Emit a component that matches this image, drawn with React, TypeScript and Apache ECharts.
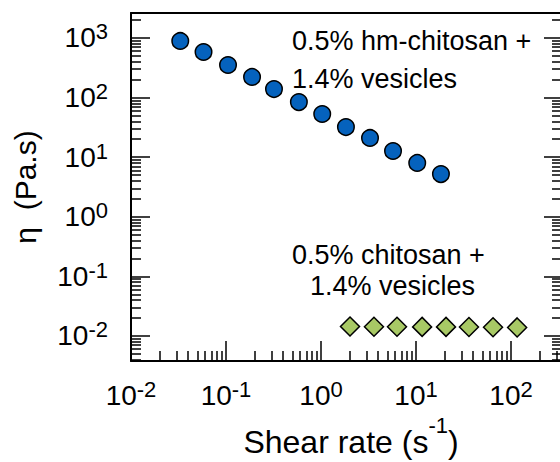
import React, { useEffect, useRef } from 'react';
import * as echarts from 'echarts';

// 0.5% hm-chitosan + 1.4% vesicles
const hmShearRate = [0.033, 0.058, 0.105, 0.188, 0.32, 0.585, 1.03, 1.83, 3.28, 5.73, 10.3, 18.3];
const hmViscosity = [891, 582, 352, 222, 139, 84, 53, 32, 21, 12.7, 8.0, 5.2];
// 0.5% chitosan + 1.4% vesicles
const chShearRate = [2.02, 3.61, 6.31, 11.6, 20.7, 36.1, 64.7, 116];
const chViscosity = [0.0144, 0.0143, 0.0143, 0.0142, 0.0142, 0.0141, 0.014, 0.0139];

const xMajorTicks = [0.01, 0.1, 1, 10, 100];
const yMajorTicks = [0.01, 0.1, 1, 10, 100, 1000];
const minorMantissas = [2, 3, 4, 5, 6, 7, 8, 9];
const decades = [-3, -2, -1, 0, 1, 2, 3];

const X_MIN = 0.01;
const X_MAX = 336;
const Y_MIN = 0.0038;
const Y_MAX = 2625;

const minorTicks = (lo: number, hi: number) => {
  const out: number[] = [];
  decades.forEach((d) =>
    minorMantissas.forEach((m) => {
      const v = Number((m * Math.pow(10, d)).toPrecision(3));
      if (v > lo && v < hi) out.push(v);
    })
  );
  return out;
};

const FONT = '"Liberation Sans", Arial, Helvetica, sans-serif';
const INK = '#000';

const tickLabelRich = {
  b: { fontSize: 28, lineHeight: 34, fontFamily: FONT, color: INK },
  s: { fontSize: 22, lineHeight: 22, verticalAlign: 'top', fontFamily: FONT, color: INK },
};
const powLabel = (v: number) => `{b|10}{s|${Math.round(Math.log10(v))}}`;

const lineStyle = { color: '#000', width: 2 };
const tickStyle = { color: '#000', width: 1.5 };

export default function App() {
  const ref = useRef<HTMLDivElement>(null);
  useEffect(() => {
    if (!ref.current) return;
    const chart = echarts.init(ref.current, null, { renderer: 'svg' });
    const xMinor = minorTicks(X_MIN, X_MAX);
    const yMinor = minorTicks(Y_MIN, Y_MAX);
    const baseX = { type: 'log', logBase: 10, min: X_MIN, max: X_MAX, splitLine: { show: false }, gridIndex: 0 };
    const baseY = { type: 'log', logBase: 10, min: Y_MIN, max: Y_MAX, splitLine: { show: false }, gridIndex: 0 };
    const note = (text: string, x: number, y: number) => ({
      type: 'text',
      x,
      y,
      style: { text, fontSize: 27, fontFamily: FONT, fill: INK, align: 'left', verticalAlign: 'middle' },
    });
    chart.setOption({
      animation: false,
      backgroundColor: '#fff',
      grid: { left: 131, top: 13, width: 430, height: 348, containLabel: false, outerBoundsMode: 'none' },
      xAxis: [
        {
          ...baseX,
          position: 'bottom',
          axisLine: { show: true, lineStyle },
          axisTick: { show: true, inside: true, length: 20, lineStyle: tickStyle, customValues: xMajorTicks },
          axisLabel: { show: true, margin: 17, customValues: xMajorTicks, formatter: powLabel, rich: tickLabelRich },
          name: '{a|Shear rate (s}{s|-1}{a|)}',
          nameLocation: 'middle',
          nameGap: 53,
          nameTextStyle: {
            padding: [0, 0, 0, 10],
            rich: {
              a: { fontSize: 32, lineHeight: 56, fontFamily: FONT, color: INK },
              s: { fontSize: 22, lineHeight: 22, verticalAlign: 'top', fontFamily: FONT, color: INK },
            },
          },
        },
        {
          ...baseX,
          position: 'bottom',
          axisLine: { show: false },
          axisTick: { show: true, inside: true, length: 10, lineStyle: tickStyle, customValues: xMinor },
          axisLabel: { show: false },
        },
        {
          ...baseX,
          position: 'top',
          axisLine: { show: true, lineStyle },
          axisTick: { show: false },
          axisLabel: { show: false },
        },
      ],
      yAxis: [
        {
          ...baseY,
          position: 'left',
          axisLine: { show: true, lineStyle },
          axisTick: { show: true, inside: true, length: 19, lineStyle: tickStyle, customValues: yMajorTicks },
          axisLabel: { show: true, margin: 23, customValues: yMajorTicks, formatter: powLabel, rich: tickLabelRich },
          name: 'η  (Pa.s)',
          nameLocation: 'middle',
          nameGap: 91,
          nameTextStyle: { fontSize: 30, fontFamily: FONT, color: INK },
        },
        {
          ...baseY,
          position: 'left',
          axisLine: { show: false },
          axisTick: { show: true, inside: true, length: 10, lineStyle: tickStyle, customValues: yMinor },
          axisLabel: { show: false },
        },
        {
          ...baseY,
          position: 'right',
          axisLine: { show: true, lineStyle },
          axisTick: { show: true, inside: true, length: 17, lineStyle: tickStyle, customValues: yMajorTicks },
          axisLabel: { show: false },
        },
        {
          ...baseY,
          position: 'right',
          axisLine: { show: false },
          axisTick: { show: true, inside: true, length: 9, lineStyle: tickStyle, customValues: yMinor },
          axisLabel: { show: false },
        },
      ],
      series: [
        {
          name: '0.5% hm-chitosan + 1.4% vesicles',
          type: 'scatter',
          xAxisIndex: 0,
          yAxisIndex: 0,
          symbol: 'circle',
          symbolSize: 16.5,
          itemStyle: { color: '#0562bd', borderColor: '#000', borderWidth: 1.5, opacity: 1 },
          data: hmShearRate.map((x, i) => [x, hmViscosity[i]]),
        },
        {
          name: '0.5% chitosan + 1.4% vesicles',
          type: 'scatter',
          xAxisIndex: 0,
          yAxisIndex: 0,
          symbol: 'diamond',
          symbolSize: 19,
          itemStyle: { color: '#a8c965', borderColor: '#000', borderWidth: 1.5, opacity: 1 },
          data: chShearRate.map((x, i) => [x, chViscosity[i]]),
        },
      ],
      graphic: [
        note('0.5% hm-chitosan +', 292, 41),
        note('1.4% vesicles', 292, 79),
        note('0.5% chitosan +', 292, 255),
        note('1.4% vesicles', 310, 286),
      ],
    });
    return () => chart.dispose();
  }, []);
  return <div ref={ref} style={{ position: 'absolute', left: 0, top: 0, width: 560, height: 462 }} />;
}
